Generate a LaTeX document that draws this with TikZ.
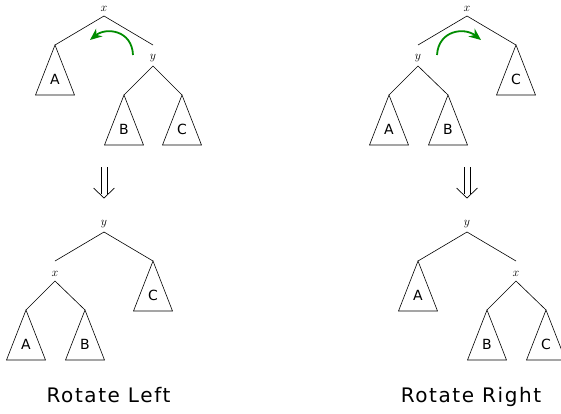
\documentclass[tikz,border=0pt]{standalone}
\usepackage{fontspec}
\newfontfamily\treesans{DejaVu Sans}
\newfontfamily\captsans[LetterSpace=8]{DejaVu Sans}
\usetikzlibrary{arrows.meta,calc}

\tikzset{
  edge/.style={line width=0.6pt},
  tri/.style={draw, line width=0.6pt, line join=miter},
  keylbl/.style={font=\fontsize{12}{14}\selectfont, inner sep=0pt},
  sublbl/.style={font=\treesans\fontsize{14}{16}\selectfont, inner sep=0pt},
  caption/.style={font=\captsans\fontsize{20}{24}\selectfont, inner sep=0pt, anchor=base},
  rotarrow/.style={draw=green!55!black, line width=1.8pt,
    -{Stealth[length=12pt,width=10pt,fill=green!55!black]}},
  implies/.style={line width=0.7pt}
}

% a subtree drawn as a triangle hanging from its apex
\newcommand\subtri[3]{%
  \draw[tri] (#2) -- ++(-19.5,50) -- ++(39,0) -- cycle;
  \node[sublbl] (#1) at ($(#2)+(0,34.5)$) {#3};}

% a key label sitting just above its apex
\newcommand\keynode[3]{%
  \coordinate (#1) at (#2);
  \node[keylbl, anchor=south] (#1l) at ($(#2)+(0,-4)$) {$#3$};}

% a big double down arrow between the two rows
\newcommand\bigimplies[2]{%
  \coordinate (#1) at (#2);
  \draw[implies] ($(#1)+(-3,0)$) -- ++(0,27)
                 ($(#1)+(3,0)$) -- ++(0,27);
  \draw[implies] ($(#1)+(-10.5,21)$) -- ($(#1)+(0,31)$) -- ($(#1)+(10.5,21)$);}

\begin{document}
\begin{tikzpicture}[x=1pt, y=-1pt]
\useasboundingbox (0,0) rectangle (561,413);

% ---------- rotate left: before ----------
\keynode{LTx}{104,16}{x}
\coordinate (LTyend) at (153,45);
\keynode{LTy}{153,66}{y}
\coordinate (LTa) at (55,45);
\coordinate (LTb) at (124,95);
\coordinate (LTc) at (182,95);
\draw[edge] (LTa) -- (LTx) -- (LTyend);
\draw[edge] (LTb) -- (LTy) -- (LTc);
\subtri{LTA}{LTa}{A}
\subtri{LTB}{LTb}{B}
\subtri{LTC}{LTc}{C}
\coordinate (LTrs) at (133,55);
\coordinate (LTre) at (90,40);
\draw[rotarrow] (LTrs) .. controls (132,30) and (106,27) .. (LTre);

\bigimplies{LDown}{104,167}

% ---------- rotate left: after ----------
\keynode{LBy}{104,232}{y}
\coordinate (LBxend) at (55,261);
\keynode{LBx}{55,281}{x}
\coordinate (LBa) at (26,310);
\coordinate (LBb) at (85,310);
\coordinate (LBc) at (153,261);
\draw[edge] (LBxend) -- (LBy) -- (LBc);
\draw[edge] (LBa) -- (LBx) -- (LBb);
\subtri{LBA}{LBa}{A}
\subtri{LBB}{LBb}{B}
\subtri{LBC}{LBc}{C}
\node[caption] (capL) at (108.5,402) {Rotate Left};

% ---------- rotate right: before ----------
\keynode{RTx}{467,16}{x}
\coordinate (RTyend) at (418,45);
\keynode{RTy}{418,66}{y}
\coordinate (RTa) at (389,95);
\coordinate (RTb) at (448,95);
\coordinate (RTc) at (516,45);
\draw[edge] (RTyend) -- (RTx) -- (RTc);
\draw[edge] (RTa) -- (RTy) -- (RTb);
\subtri{RTA}{RTa}{A}
\subtri{RTB}{RTb}{B}
\subtri{RTC}{RTc}{C}
\coordinate (RTrs) at (437,55);
\coordinate (RTre) at (481,40);
\draw[rotarrow] (RTrs) .. controls (438.5,30) and (464.5,27) .. (RTre);

\bigimplies{RDown}{467,167}

% ---------- rotate right: after ----------
\keynode{RBy}{467,232}{y}
\coordinate (RBxend) at (516,261);
\keynode{RBx}{516,281}{x}
\coordinate (RBa) at (418,261);
\coordinate (RBb) at (487,310);
\coordinate (RBc) at (546,310);
\draw[edge] (RBa) -- (RBy) -- (RBxend);
\draw[edge] (RBb) -- (RBx) -- (RBc);
\subtri{RBA}{RBa}{A}
\subtri{RBB}{RBb}{B}
\subtri{RBC}{RBc}{C}
\node[caption] (capR) at (471,402) {Rotate Right};
\end{tikzpicture}
\end{document}
